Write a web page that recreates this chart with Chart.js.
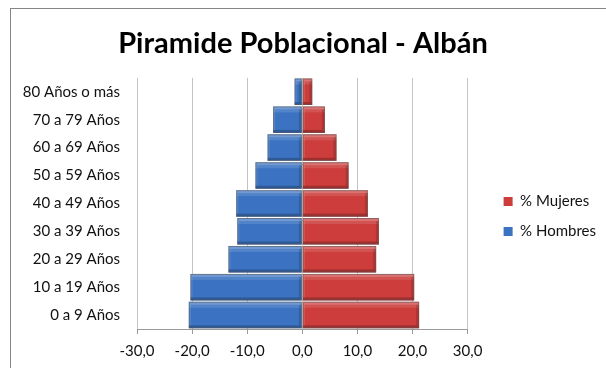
<!DOCTYPE html>
<html>
<head>
<meta charset="utf-8">
<script src="https://cdn.jsdelivr.net/npm/chart.js@4"></script>
<style>
  html, body { margin: 0; padding: 0; background: #fff; }
  #wrap { position: relative; width: 606px; height: 368px; overflow: hidden; }
  #frame { position: absolute; left: 10px; top: 8px; width: 640px; height: 400px; border: 1px solid #868686; }
  #chart { position: absolute; left: 0; top: 0; }
</style>
</head>
<body>
<div id="wrap">
  <div id="frame"></div>
  <canvas id="chart" width="606" height="368"></canvas>
</div>
<script>
// age groups, youngest first (axis is reversed so 0 a 9 sits at the bottom)
const grupos = ['0 a 9 Años', '10 a 19 Años', '20 a 29 Años', '30 a 39 Años', '40 a 49 Años',
  '50 a 59 Años', '60 a 69 Años', '70 a 79 Años', '80 Años o más'];
const hombres = [-20.6, -20.3, -13.4, -11.8, -12.0, -8.5, -6.3, -5.3, -1.4];
const mujeres = [21.2, 20.3, 13.4, 13.9, 11.9, 8.4, 6.2, 4.1, 1.8];
const xTicks = [-30, -20, -10, 0, 10, 20, 30];

const FONT = 'Lato, "Liberation Sans", sans-serif';

// little bevel on every bar, like the excel 3d look
const bevel = {
  id: 'bevel',
  afterDatasetsDraw(chart) {
    const ctx = chart.ctx;
    chart.data.datasets.forEach((ds, i) => {
      chart.getDatasetMeta(i).data.forEach(bar => {
        const p = bar.getProps(['x', 'y', 'base', 'height'], true);
        const l = Math.min(p.x, p.base), r = Math.max(p.x, p.base);
        const t = p.y - p.height / 2, b = p.y + p.height / 2;
        const w = r - l, h = b - t;
        if (w < 1) return;
        ctx.save();
        ctx.fillStyle = 'rgba(255,255,255,0.28)';
        ctx.fillRect(l, t, w, 3);
        ctx.fillStyle = 'rgba(255,255,255,0.12)';
        ctx.fillRect(l, t + 3, w, 3);
        ctx.fillStyle = 'rgba(0,0,0,0.22)';
        ctx.fillRect(l, b - 3, w, 3);
        ctx.fillStyle = 'rgba(0,0,0,0.14)';
        ctx.fillRect(r - 3, t + 3, 3, h - 6);
        ctx.fillStyle = 'rgba(255,255,255,0.14)';
        ctx.fillRect(l, t + 3, 2, h - 6);
        ctx.strokeStyle = 'rgba(90,90,90,0.55)';
        ctx.lineWidth = 1;
        ctx.strokeRect(l + 0.5, t + 0.5, w - 1, h - 1);
        ctx.restore();
      });
    });
  }
};

new Chart(document.getElementById('chart'), {
  type: 'bar',
  plugins: [bevel],
  data: {
    labels: grupos,
    datasets: [
      {
        label: '% Mujeres',
        data: mujeres,
        backgroundColor: '#cc3d3b',
        borderWidth: 0,
        barPercentage: 0.95,
        categoryPercentage: 1
      },
      {
        label: '% Hombres',
        data: hombres,
        backgroundColor: '#3b73c2',
        borderWidth: 0,
        barPercentage: 0.95,
        categoryPercentage: 1
      }
    ]
  },
  options: {
    responsive: false,
    animation: false,
    indexAxis: 'y',
    layout: { padding: { top: 0, bottom: 0, left: 0, right: 0 } },
    scales: {
      x: {
        stacked: true,
        min: -30,
        max: 30,
        afterBuildTicks: s => { s.ticks = xTicks.map(v => ({ value: v })); },
        grid: { color: '#c4c4c4', tickLength: 5, tickColor: '#9a9a9a' },
        border: { color: '#9a9a9a' },
        ticks: {
          padding: 8,
          color: '#111',
          font: { family: FONT, size: 15 },
          callback: v => v.toFixed(1).replace('.', ',')
        }
      },
      y: {
        stacked: true,
        reverse: true,
        grid: { display: false, drawTicks: false },
        border: { display: false },
        afterFit: s => { s.width = 137; },
        ticks: { padding: 17, color: '#111', font: { family: FONT, size: 15 } }
      },
      // hidden spacer between plot and legend
      y2: {
        position: 'right',
        display: false,
        afterFit: s => { s.width = 21; }
      }
    },
    plugins: {
      title: {
        display: true,
        text: 'Piramide Poblacional - Albán',
        color: '#000',
        font: { family: FONT, size: 29, weight: 'bold' },
        padding: { top: 26, bottom: 17 }
      },
      legend: {
        position: 'right',
        fullSize: false,
        title: { display: true, text: '', font: { size: 10 }, padding: 7 },
        labels: {
          boxWidth: 9,
          boxHeight: 9,
          padding: 15,
          color: '#111',
          font: { family: FONT, size: 15 }
        }
      },
      tooltip: { enabled: false }
    }
  }
});
</script>
</body>
</html>
